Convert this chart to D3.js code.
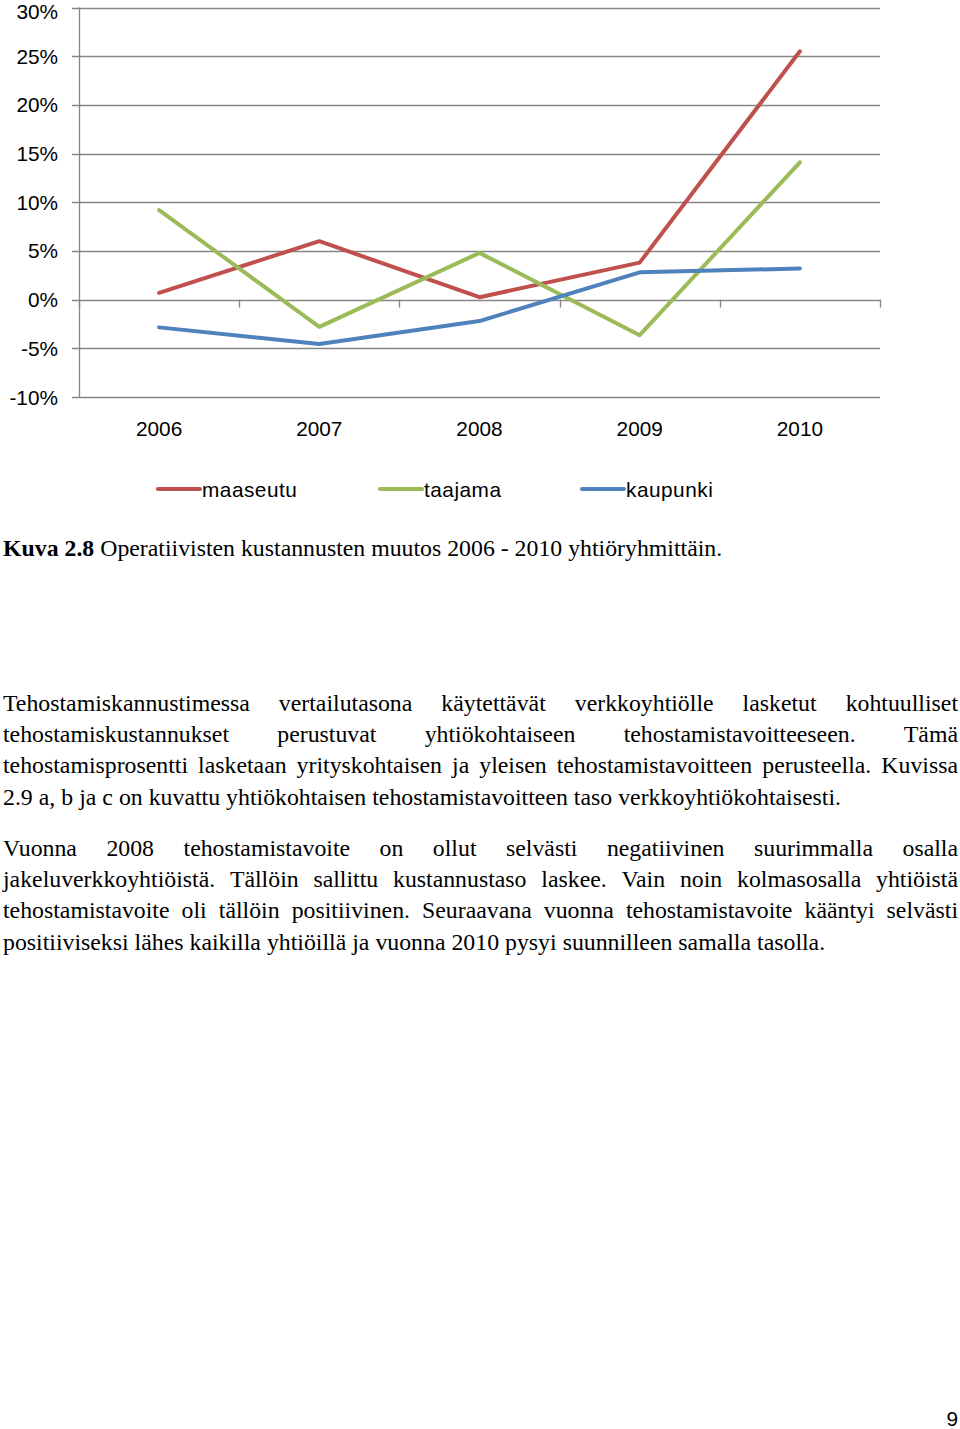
<!DOCTYPE html>
<html><head><meta charset="utf-8">
<script src="https://cdn.jsdelivr.net/npm/d3@7"></script>
<style>body{margin:0;background:#fff}svg{display:block}</style>
</head><body>
<svg id="c" width="960" height="1429"></svg>
<script>
const years = ["2006","2007","2008","2009","2010"];
const maaseutu = [0.7, 6.0, 0.25, 3.8, 25.5];
const taajama = [9.2, -2.8, 4.8, -3.65, 14.1];
const kaupunki = [-2.85, -4.55, -2.2, 2.8, 3.2];
const yTicks = [30, 25, 20, 15, 10, 5, 0, -5, -10];
const seriesNames = ["maaseutu","taajama","kaupunki"];
const seriesColors = ["#C0504D","#9BBB59","#4F81BD"];
const caption = ["Kuva 2.8", " Operatiivisten kustannusten muutos 2006 - 2010 yhtiöryhmittäin."];
const para1 = [
 "Tehostamiskannustimessa vertailutasona käytettävät verkkoyhtiölle lasketut kohtuulliset",
 "tehostamiskustannukset perustuvat yhtiökohtaiseen tehostamistavoitteeseen. Tämä",
 "tehostamisprosentti lasketaan yrityskohtaisen ja yleisen tehostamistavoitteen perusteella. Kuvissa",
 "2.9 a, b ja c on kuvattu yhtiökohtaisen tehostamistavoitteen taso verkkoyhtiökohtaisesti."];
const para2 = [
 "Vuonna 2008 tehostamistavoite on ollut selvästi negatiivinen suurimmalla osalla",
 "jakeluverkkoyhtiöistä. Tällöin sallittu kustannustaso laskee. Vain noin kolmasosalla yhtiöistä",
 "tehostamistavoite oli tällöin positiivinen. Seuraavana vuonna tehostamistavoite kääntyi selvästi",
 "positiiviseksi lähes kaikilla yhtiöillä ja vuonna 2010 pysyi suunnilleen samalla tasolla."];

(function(){
const svg = d3.select("#c");
const pLeft = 79, pRight = 880, pTop = 7.5, pBottom = 397;
const x = d3.scaleBand().domain(years).range([pLeft, pRight]);
const y = d3.scaleLinear().domain([-10, 30]).range([pBottom, pTop]);
const sans = "'Liberation Sans', Arial, sans-serif";
const serif = "'Liberation Serif', 'Times New Roman', serif";
const fsSans = 20.8, fsSerif = 23.8;

svg.append("g").selectAll("line").data(yTicks).join("line")
  .attr("x1", pLeft - 7).attr("x2", pRight)
  .attr("y1", d => Math.round(y(d)) + 0.5).attr("y2", d => Math.round(y(d)) + 0.5)
  .attr("stroke", "#868686").attr("stroke-width", 1.3);
svg.append("line").attr("x1", pLeft + 0.5).attr("x2", pLeft + 0.5)
  .attr("y1", y(30)).attr("y2", y(-10)).attr("stroke", "#868686").attr("stroke-width", 1.3);
svg.append("g").selectAll("text").data(yTicks).join("text")
  .attr("x", 58).attr("y", d => Math.max(y(d) + 7.5, 19))
  .attr("text-anchor", "end").attr("font-family", sans).attr("font-size", fsSans)
  .attr("fill", "#000").text(d => d + "%");
const bounds = years.map(d => x(d)).concat([pRight]);
svg.append("g").selectAll("line").data(bounds).join("line")
  .attr("x1", d => Math.round(d) + 0.5).attr("x2", d => Math.round(d) + 0.5)
  .attr("y1", y(0)).attr("y2", y(0) + 8)
  .attr("stroke", "#868686").attr("stroke-width", 1.3);
svg.append("g").selectAll("text").data(years).join("text")
  .attr("x", d => x(d) + x.bandwidth() / 2).attr("y", 435.5)
  .attr("text-anchor", "middle").attr("font-family", sans).attr("font-size", fsSans)
  .text(d => d);

const allSeries = [maaseutu, taajama, kaupunki];
const line = d3.line().x((d, i) => x(years[i]) + x.bandwidth() / 2).y(d => y(d));
allSeries.forEach((s, k) => {
  svg.append("path").datum(s).attr("d", line).attr("fill", "none")
    .attr("stroke", seriesColors[k]).attr("stroke-width", 4)
    .attr("stroke-linecap", "round").attr("stroke-linejoin", "round");
});

const legX = [158, 380, 582];
seriesNames.forEach((n, k) => {
  const g = svg.append("g");
  g.append("line").attr("x1", legX[k]).attr("x2", legX[k] + 42)
    .attr("y1", 489).attr("y2", 489).attr("stroke", seriesColors[k]).attr("stroke-width", 4)
    .attr("stroke-linecap", "round");
  g.append("text").attr("x", legX[k] + 44).attr("y", 496.5)
    .attr("font-family", sans).attr("font-size", fsSans).attr("letter-spacing", 0.5).text(n);
});

const cap = svg.append("text").attr("x", 3).attr("y", 555.5)
  .attr("font-family", serif).attr("font-size", fsSerif);
cap.append("tspan").attr("font-weight", "bold").text(caption[0]);
cap.append("tspan").text(caption[1]);

function para(lines, y0) {
  const lh = 31.4, x0 = 3, x1 = 958;
  lines.forEach((ln, i) => {
    const yy = y0 + i * lh;
    const words = ln.split(" ");
    const last = i === lines.length - 1;
    const g = svg.append("g");
    const ts = words.map(w => g.append("text").attr("y", yy)
      .attr("font-family", serif).attr("font-size", fsSerif).text(w));
    const widths = ts.map(t => t.node().getComputedTextLength());
    const total = d3.sum(widths);
    const gap = last ? 6 : (x1 - x0 - total) / (words.length - 1);
    let cx = x0;
    ts.forEach((t, j) => { t.attr("x", cx); cx += widths[j] + gap; });
  });
}
para(para1, 710.5);
para(para2, 855.5);

svg.append("text").attr("x", 958).attr("y", 1426).attr("text-anchor", "end")
  .attr("font-family", sans).attr("font-size", fsSans).text("9");
})();
</script>
</body></html>
